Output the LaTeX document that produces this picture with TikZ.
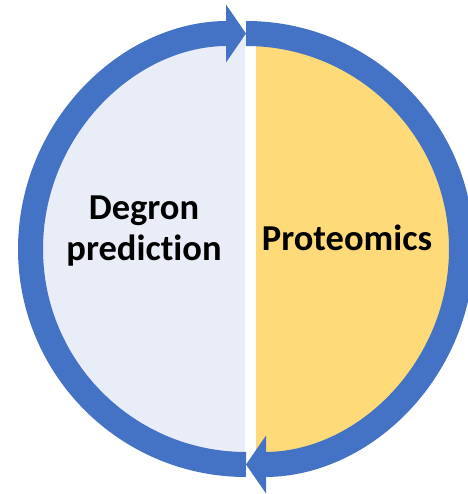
\documentclass[tikz,border=0pt]{standalone}
\usepackage{fontspec}
\setmainfont{Carlito}[Ligatures=NoCommon]
\usepackage{xcolor}
\usepackage{tikz}
\usetikzlibrary{arrows.meta}
\definecolor{ringblue}{HTML}{4472C4}
\definecolor{halflav}{HTML}{E9EDF7}
\definecolor{halfgold}{HTML}{FFDA78}

\begin{document}
\begin{tikzpicture}[
  x=1pt, y=1pt,
  ring/.style={draw=ringblue, line width=25pt, line cap=butt, -{Triangle[length=20pt, width=57pt]}},
  label/.style={inner sep=0pt, align=center, font=\bfseries\fontsize{36.5}{41}\selectfont}
]
\useasboundingbox (0,0) rectangle (467,494);
\coordinate (c) at (246,245);
\coordinate (top) at (246,460.5);
\coordinate (bottom) at (246,29.5);

% the two halves
\begin{scope}
  \clip (c) circle[radius=210pt];
  \fill[halflav] (0,0) rectangle (245,494);
  \fill[halfgold] (256,0) rectangle (467,494);
\end{scope}

% cycle arrows
\draw[ring] (bottom) arc[start angle=270, end angle=90, radius=215.5pt];
\draw[ring] (top) arc[start angle=90, end angle=-90, radius=215.5pt];

\node[label] (degron) at (144,263) {Degron\\prediction};
\node[label] (proteo) at (347,256) {Proteomics};
\end{tikzpicture}
\end{document}
